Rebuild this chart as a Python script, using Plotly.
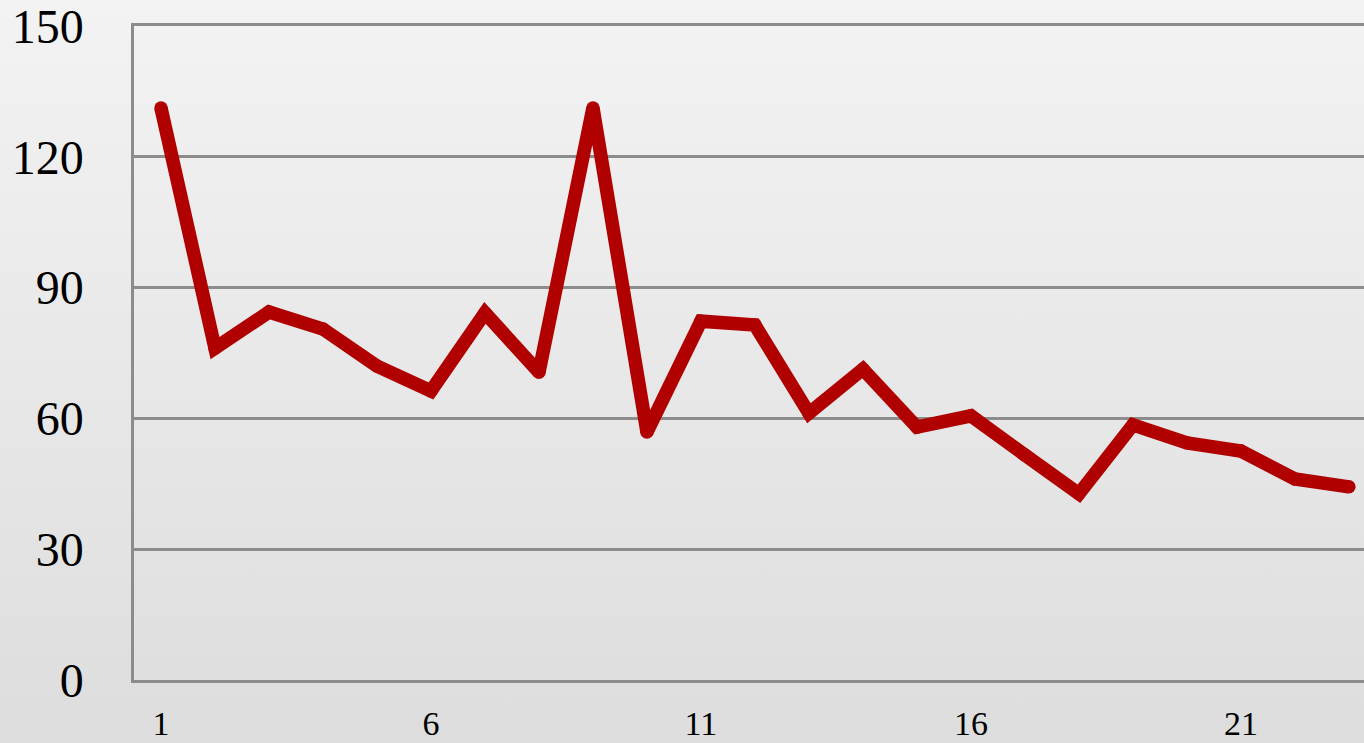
import plotly.graph_objects as go

# Series values, one per period
periods = list(range(1, 24))
values = [131.2, 76.1, 84.4, 80.5, 72.0, 66.3, 84.2, 70.6, 131.2, 56.9,
          82.3, 81.4, 61.2, 71.3, 58.0, 60.6, 51.6, 42.7, 58.5, 54.4,
          52.5, 46.1, 44.3]

x_tick_vals = [1, 6, 11, 16, 21]
y_tick_vals = [0, 30, 60, 90, 120, 150]

LINE_RED = "#b00000"
GRID_GREY = "#8c8c8c"

# Soft vertical grey gradient for the slide background
bg_svg = (
    "data:image/svg+xml;utf8,"
    "<svg xmlns='http://www.w3.org/2000/svg' width='100' height='100' preserveAspectRatio='none'>"
    "<defs><linearGradient id='g' x1='0' y1='0' x2='0' y2='1'>"
    "<stop offset='0' stop-color='%23f3f3f3'/>"
    "<stop offset='1' stop-color='%23dcdcdc'/>"
    "</linearGradient></defs>"
    "<rect width='100' height='100' fill='url(%23g)'/></svg>"
)

fig = go.Figure()
# Thick line
fig.add_trace(go.Scatter(
    x=periods,
    y=values,
    mode="lines",
    line=dict(color=LINE_RED, width=13.5),
    hoverinfo="x+y",
))
# Round dots at every vertex give rounded joins and end caps
fig.add_trace(go.Scatter(
    x=periods,
    y=values,
    mode="markers",
    marker=dict(color=LINE_RED, size=13.5, line=dict(width=0)),
    hoverinfo="skip",
))

fig.update_layout(
    width=1364,
    height=743,
    margin=dict(l=134, r=0, t=26, b=63, autoexpand=False),
    paper_bgcolor="#e8e8e8",
    plot_bgcolor="rgba(0,0,0,0)",
    font=dict(family="Liberation Serif, Times New Roman, serif", color="#000000"),
    showlegend=False,
    images=[dict(
        source=bg_svg,
        xref="paper", yref="paper",
        x=-0.12, y=1.05, sizex=1.16, sizey=1.2,
        xanchor="left", yanchor="top",
        sizing="stretch", layer="below",
    )],
    xaxis=dict(
        range=[0.5, 23.28],
        tickmode="array",
        tickvals=x_tick_vals,
        ticktext=[str(v) for v in x_tick_vals],
        showgrid=False,
        zeroline=False,
        showline=True,
        mirror=True,
        linecolor=GRID_GREY,
        linewidth=2.5,
        ticks="",
        tickfont=dict(size=34),
        ticklabelstandoff=11,
        ticklabeloverflow="allow",
        automargin=False,
    ),
    yaxis=dict(
        range=[0, 150],
        tickmode="array",
        tickvals=y_tick_vals,
        showgrid=True,
        gridcolor=GRID_GREY,
        gridwidth=2.5,
        zeroline=False,
        showline=True,
        linecolor=GRID_GREY,
        linewidth=2.5,
        ticks="",
        tickfont=dict(size=48),
        ticklabelstandoff=38,
        ticklabeloverflow="allow",
        automargin=False,
    ),
)

fig.write_html("out.html")
